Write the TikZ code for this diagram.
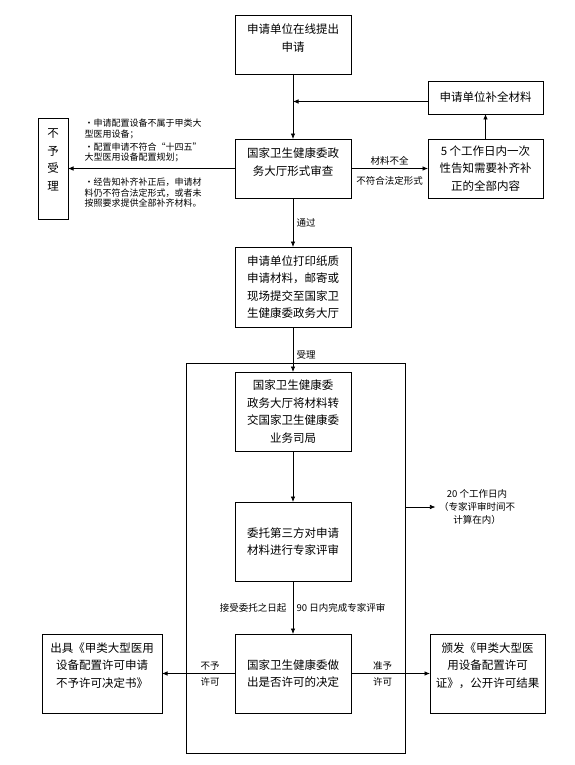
\documentclass[tikz,border=0pt]{standalone}
\usepackage{fontspec}
\setmainfont{Noto Sans CJK SC}
\usepackage{tikz}
\usetikzlibrary{arrows.meta,positioning}

\begin{document}
\begin{tikzpicture}[
x=1pt, y=-1pt,
every node/.style={font=\fontsize{9.5pt}{12pt}\selectfont},
stage/.style={draw, line width=0.9pt, align=center, inner sep=3pt, outer sep=0pt, minimum width=116pt, minimum height=79pt, font=\fontsize{11.5pt}{17.5pt}\selectfont},
hall/.style={draw, line width=0.9pt, outer sep=0pt, minimum width=219pt, minimum height=390pt},
note/.style={align=left, inner sep=0pt, font=\fontsize{9pt}{10.7pt}\selectfont},
arr/.style={-{Latex[length=5.5pt,width=4.5pt]}, line width=0.7pt}
]
\useasboundingbox (0,0) rectangle (575,765);

% main column
\node[stage, minimum height=59pt] (A) at (293,44.5) {申请单位在线提出\\申请\\[-4pt]\mbox{}};
\node[stage, minimum height=59pt, below=65pt of A] (B) {国家卫生健康委政\\务大厅形式审查\\[-4pt]\mbox{}};
\node[stage, minimum height=80pt, below=49pt of B] (C) {申请单位打印纸质\\申请材料，邮寄或\\现场提交至国家卫\\生健康委政务大厅};
\node[stage, below=45pt of C] (D) {国家卫生健康委\\政务大厅将材料转\\交国家卫生健康委\\业务司局};
\node[stage, below=51pt of D] (E) {委托第三方对申请\\材料进行专家评审};
\node[stage, below=53pt of E] (F) {国家卫生健康委做\\出是否许可的决定};
\node[hall] (H0) at (295.5,558) {};

% side boxes
\node[stage, minimum width=115pt, minimum height=59pt, right=77pt of B] (R2) {5 个工作日内一次\\性告知需要补齐补\\正的全部内容};
\node[stage, minimum width=115pt, minimum height=33pt, above=25pt of R2] (R1) {申请单位补全材料};
\node[stage, minimum width=30pt, minimum height=101pt, left=167pt of B] (L1) {不\\予\\受\\理\\\mbox{}};
\node[stage, minimum width=120pt, left=73pt of F] (G) {出具《甲类大型医用\\设备配置许可申请\\不予许可决定书》\\\mbox{}};
\node[stage, minimum width=115pt, right=79pt of F] (H) {颁发《甲类大型医\\用设备配置许可\\证》，公开许可结果\\\mbox{}};
\node[align=center, font=\fontsize{9.5pt}{13pt}\selectfont] (T20) at (477,507) {20 个工作日内\\（专家评审时间不\\计算在内）};

% connectors
\draw[arr] (A) -- (B);
\draw[arr] ([yshift=-4pt]R1.west) -- ([yshift=-4pt]R1.west -| A.south);
\draw[arr] (B) -- node[above] {材料不全} node[below=4pt] {不符合法定形式} (R2);
\draw[arr] (R2) -- (R1);
\draw[arr] (B) -- node[note, pos=.55, above=6pt] (N1) {・申请配置设备不属于甲类大\\型医用设备；\\[2pt]・配置申请不符合“十四五”\\大型医用设备配置规划；}
  node[note, pos=.55, below=9pt] (N2) {・经告知补齐补正后，申请材\\料仍不符合法定形式，或者未\\按照要求提供全部补齐材料。} (L1);
\draw[arr] (B) -- node[right] {通过} (C);
\draw[arr] (C) -- node[pos=.62, right] {受理} (D);
\draw[arr] (D) -- (E);
\draw[arr] (E) -- node[left=3pt] {接受委托之日起} node[right] {90 日内完成专家评审} (F);
\draw[arr] (F) -- node[pos=.34, above] {不予} node[pos=.34, below] {许可} (G);
\draw[arr] (F) -- node[pos=.4, above] {准予} node[pos=.4, below] {许可} (H);
\draw[arr] (H0.east |- T20.west) -- (T20.west);

\end{tikzpicture}
\end{document}
